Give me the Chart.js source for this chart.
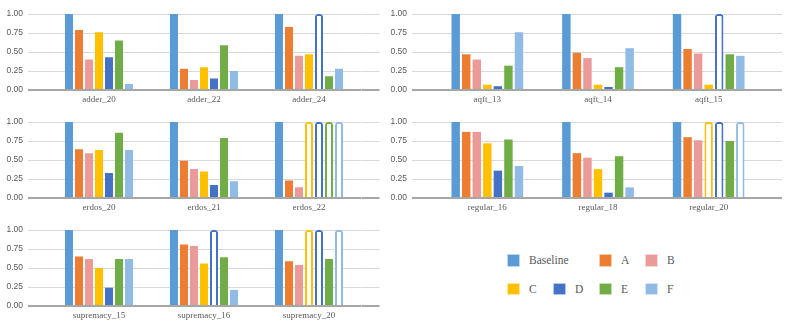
<!DOCTYPE html>
<html>
<head>
<meta charset="utf-8">
<script src="https://cdn.jsdelivr.net/npm/chart.js@4"></script>
<style>
  body { margin: 0; background: #fff; width: 793px; height: 328px; overflow: hidden; position: relative; }
  canvas { position: absolute; }
  .legend { position: absolute; left: 507px; top: 254px; display: grid; grid-template-columns: 46px 46px 46px 46px; row-gap: 16px;
            font-family: "Liberation Serif", serif; font-size: 11.5px; color: #595959; }
  .item { display: flex; align-items: center; height: 12.5px; white-space: nowrap; }
  .swatch { width: 12.5px; height: 12.5px; margin-right: 9.5px; box-sizing: border-box; border: 1px solid rgba(255,255,255,0.6); border-radius: 1px; }
</style>
</head>
<body>
<div class="legend" id="legend"></div>
<script>
// series names and one value list per panel; null = no result (drawn as an empty outline bar at 1.00)
const seriesNames = ["Baseline", "A", "B", "C", "D", "E", "F"];
const seriesColors = ["#5B9BD5", "#ED7D31", "#EA9A98", "#FFC000", "#4472C4", "#70AD47", "#8FBBE5"];
const yTicks = [0, 0.25, 0.5, 0.75, 1];

const adderLabels = ["adder_20", "adder_22", "adder_24"];
const adderValues = {
    Baseline: [1, 1, 1],
    A: [0.79, 0.28, 0.83],
    B: [0.40, 0.13, 0.45],
    C: [0.76, 0.30, 0.47],
    D: [0.43, 0.15, null],
    E: [0.65, 0.59, 0.18],
    F: [0.08, 0.25, 0.28]
};

const aqftLabels = ["aqft_13", "aqft_14", "aqft_15"];
const aqftValues = {
    Baseline: [1, 1, 1],
    A: [0.47, 0.49, 0.54],
    B: [0.40, 0.42, 0.48],
    C: [0.07, 0.07, 0.07],
    D: [0.05, 0.04, null],
    E: [0.32, 0.30, 0.47],
    F: [0.76, 0.55, 0.45]
};

const erdosLabels = ["erdos_20", "erdos_21", "erdos_22"];
const erdosValues = {
    Baseline: [1, 1, 1],
    A: [0.64, 0.49, 0.23],
    B: [0.59, 0.38, 0.14],
    C: [0.63, 0.35, null],
    D: [0.33, 0.17, null],
    E: [0.86, 0.79, null],
    F: [0.63, 0.22, null]
};

const regularLabels = ["regular_16", "regular_18", "regular_20"];
const regularValues = {
    Baseline: [1, 1, 1],
    A: [0.87, 0.59, 0.80],
    B: [0.87, 0.53, 0.76],
    C: [0.72, 0.38, null],
    D: [0.36, 0.07, null],
    E: [0.77, 0.55, 0.75],
    F: [0.42, 0.14, null]
};

const supremacyLabels = ["supremacy_15", "supremacy_16", "supremacy_20"];
const supremacyValues = {
    Baseline: [1, 1, 1],
    A: [0.65, 0.81, 0.59],
    B: [0.62, 0.79, 0.54],
    C: [0.50, 0.56, null],
    D: [0.24, null, null],
    E: [0.62, 0.64, 0.62],
    F: [0.62, 0.21, null]
};

const OUTLINE_VALUE = 1;

// panel placement: left panels and right panels have slightly different plot widths
const leftGeo = { left: 0, width: 390, yWidth: 46.5, tick: 18.5, padRight: 10.5 };
const rightGeo = { left: 390, width: 403, yWidth: 42, tick: 20, padRight: 11 };
const PLOT_BOTTOM = 90; // baseline position inside each canvas

const panels = [
    { labels: adderLabels, values: adderValues, geo: leftGeo, top: 0, height: 120 },
    { labels: aqftLabels, values: aqftValues, geo: rightGeo, top: 0, height: 120 },
    { labels: erdosLabels, values: erdosValues, geo: leftGeo, top: 108, height: 120 },
    { labels: regularLabels, values: regularValues, geo: rightGeo, top: 108, height: 120 },
    { labels: supremacyLabels, values: supremacyValues, geo: leftGeo, top: 216, height: 112 }
];

const gridColor = ctx => (ctx.tick && ctx.tick.value === 0) ? "#a6a6a6" : "#d9d9d9";
const gridWidth = ctx => (ctx.tick && ctx.tick.value === 0) ? 2 : 1;

function makePanel(p) {
    let canvas = document.createElement("canvas");
    canvas.width = p.geo.width;
    canvas.height = p.height;
    canvas.style.left = p.geo.left + "px";
    canvas.style.top = p.top + "px";
    document.body.appendChild(canvas);

    let datasets = seriesNames.map((name, i) => {
        let vals = p.values[name];
        return {
            label: name,
            data: vals.map(v => v === null ? OUTLINE_VALUE : v),
            backgroundColor: vals.map(v => v === null ? "#ffffff" : seriesColors[i]),
            borderColor: seriesColors[i],
            borderWidth: vals.map(v => v === null ? 2 : 0),
            borderRadius: ctx => vals[ctx.dataIndex] === null ? 3 : 0,
            categoryPercentage: 0.667,
            barPercentage: 0.8
        };
    });

    new Chart(canvas.getContext("2d"), {
        type: "bar",
        data: { labels: p.labels, datasets: datasets },
        options: {
            responsive: false,
            animation: false,
            devicePixelRatio: 1,
            layout: { padding: { top: 14, right: p.geo.padRight, left: 0, bottom: 0 } },
            plugins: { legend: { display: false }, tooltip: { enabled: false } },
            scales: {
                x: {
                    grid: { display: false, drawTicks: false },
                    border: { display: false },
                    ticks: { color: "#595959", padding: 4.5, maxRotation: 0, font: { family: "Liberation Serif", size: 9 } },
                    afterFit: s => { s.height = p.height - PLOT_BOTTOM; }
                },
                y: {
                    min: 0, max: 1,
                    afterBuildTicks: s => { s.ticks = yTicks.map(v => ({ value: v })); },
                    border: { display: false },
                    grid: { color: gridColor, lineWidth: gridWidth, drawTicks: true, tickLength: p.geo.tick },
                    ticks: {
                        color: "#595959", padding: 5,
                        font: { family: "Liberation Sans", size: 8.5 },
                        callback: v => Number(v).toFixed(2)
                    },
                    afterFit: s => { s.width = p.geo.yWidth; }
                },
                y2: {
                    position: "right",
                    min: 0, max: 1,
                    afterBuildTicks: s => { s.ticks = yTicks.map(v => ({ value: v })); },
                    border: { display: false },
                    grid: { color: gridColor, lineWidth: gridWidth, drawOnChartArea: false, drawTicks: true, tickLength: 18 },
                    ticks: { display: false },
                    afterFit: s => { s.width = 18; }
                }
            }
        }
    });
}

panels.forEach(makePanel);

// legend: Baseline takes two columns in the first row
const legendCols = [1, 3, 4, 1, 2, 3, 4];
const legendRows = [1, 1, 1, 2, 2, 2, 2];
let legend = document.getElementById("legend");
seriesNames.forEach((name, i) => {
    let item = document.createElement("div");
    item.className = "item";
    item.style.gridColumn = legendCols[i] + (i === 0 ? " / span 2" : "");
    item.style.gridRow = legendRows[i];
    let sw = document.createElement("span");
    sw.className = "swatch";
    sw.style.background = seriesColors[i];
    item.appendChild(sw);
    item.appendChild(document.createTextNode(name));
    legend.appendChild(item);
});
</script>
</body>
</html>
